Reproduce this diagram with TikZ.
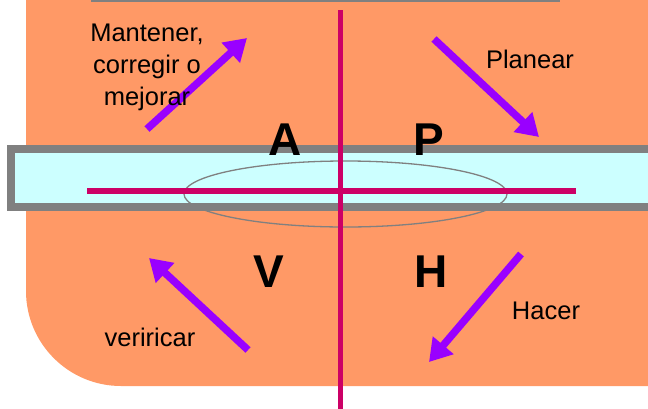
\documentclass[tikz,border=0pt]{standalone}
\usepackage{fontspec}
\setmainfont{Liberation Sans}
\usetikzlibrary{arrows.meta}
\definecolor{fondo}{HTML}{FF9966}
\definecolor{barra}{HTML}{CCFFFF}
\definecolor{eje}{HTML}{CC0066}
\definecolor{flecha}{HTML}{9900FF}
\begin{document}
\begin{tikzpicture}[x=1pt, y=-1pt, line join=miter,
    flujo/.style={line width=7.5pt, flecha, -{Triangle[length=22pt,width=26pt]}},
    etapa/.style={font=\fontsize{46}{46}\selectfont\bfseries, inner sep=0pt, anchor=base},
    nota/.style={font=\fontsize{25.5}{32}\selectfont, inner sep=0pt, anchor=base, align=center}]
  \clip (0,0) rectangle (648,408);
  % Orange panel, only its lower left corner is seen rounded.
  \fill[fondo, rounded corners=95pt] (26,-200) rectangle (760,386);
  \draw[gray, line width=3pt] (91,0) -- (560,0);
  % Cyan band with the ellipse.
  \draw[gray, line width=7.5pt, fill=barra] (11,149) rectangle (700,207);
  \draw[gray, line width=1.3pt] (345.5,194) ellipse[x radius=161.5, y radius=33];
  % Axes.
  \draw[eje, line width=6pt] (87,191) -- (576,191);
  \draw[eje, line width=5pt] (340,10) -- (340,420);
  % Quadrant letters.
  \node[etapa] (A) at (285,155) {A};
  \node[etapa] (P) at (429,155) {P};
  \node[etapa] (V) at (269,287) {V};
  \node[etapa] (H) at (431,287) {H};
  % Cycle arrows.
  \foreach \n/\tail/\tip in {a/{147,129}/{247,38}, p/{434,39}/{539,137},
                             h/{521,254}/{429,362}, v/{248,350}/{149,258}} {
    \coordinate (\n0) at (\tail);
    \coordinate (\n1) at (\tip);
    \draw[flujo] (\n0) -- (\n1);
  }
  % Labels.
  \node[nota] (mantener) at (147,105) {Mantener,\\corregir o\\mejorar};
  \node[nota] (planear) at (530,68) {Planear};
  \node[nota] (hacer) at (546,319) {Hacer};
  \node[nota] (verificar) at (150,346) {veriricar};
\end{tikzpicture}
\end{document}
